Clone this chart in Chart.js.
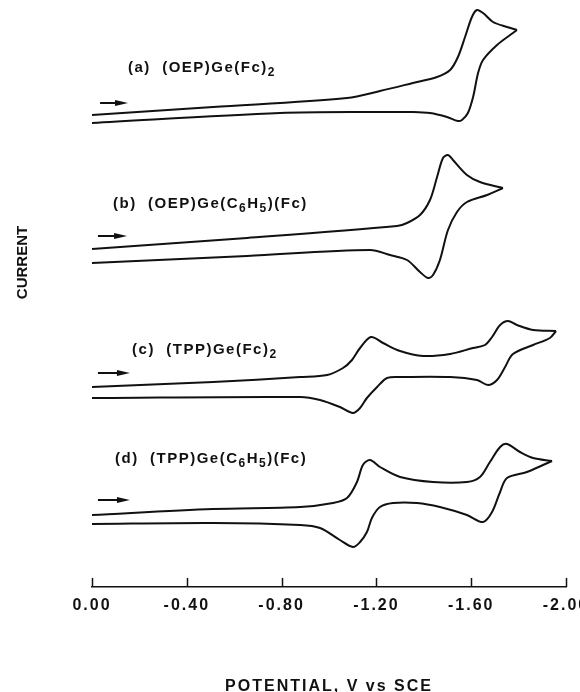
<!DOCTYPE html>
<html>
<head>
<meta charset="utf-8">
<script src="https://cdn.jsdelivr.net/npm/chart.js@4.4.1/dist/chart.umd.min.js"></script>
<style>
  html, body { margin:0; padding:0; background:#fff; }
  #wrap { width:580px; height:692px; position:relative; }
</style>
</head>
<body>
<div id="wrap"><canvas id="grafico"></canvas></div>
<script>
// potencial (V vs SCE) e corrente (unid. arbitrarias, curvas deslocadas na vertical)
const potentialA = [0, -0.511, -1.076, -1.215, -1.354, -1.456, -1.511, -1.544, -1.574, -1.603, -1.624, -1.650, -1.692, -1.751, -1.793,
                    -1.776, -1.709, -1.650, -1.629, -1.608, -1.586, -1.561, -1.544, -1.498, -1.426, -1.354, -1.215, -0.793, 0];
const currentA   = [47.2, 48.0, 48.9, 49.6, 50.4, 51.0, 51.7, 53.0, 55.0, 57.0, 57.7, 57.4, 56.5, 56.0, 55.7,
                    55.4, 54.2, 52.7, 51.4, 49.0, 47.4, 46.7, 46.6, 47.0, 47.4, 47.5, 47.5, 47.4, 46.4];

const potentialB = [0, -0.654, -1.287, -1.329, -1.384, -1.426, -1.456, -1.481, -1.502, -1.523, -1.582, -1.637, -1.734,
                    -1.667, -1.582, -1.540, -1.502, -1.468, -1.439, -1.418, -1.384, -1.329, -1.257, -1.173, -0.654, 0];
const currentB   = [33.8, 34.9, 36.1, 36.4, 37.2, 38.7, 41.0, 42.9, 43.2, 42.7, 41.2, 40.5, 39.9,
                    39.2, 38.5, 37.5, 35.7, 32.7, 31.2, 30.9, 31.5, 32.7, 33.2, 33.7, 33.1, 32.4];

const potentialC = [0, -0.511, -0.878, -0.992, -1.059, -1.097, -1.131, -1.177, -1.228, -1.300, -1.397, -1.511, -1.608, -1.658,
                    -1.688, -1.722, -1.755, -1.793, -1.861, -1.958,
                    -1.932, -1.861, -1.776, -1.743, -1.709, -1.671, -1.624, -1.511, -1.300, -1.245, -1.203, -1.160, -1.131,
                    -1.101, -1.046, -0.962, -0.878, 0];
const currentC   = [20.0, 20.5, 21.0, 21.2, 21.9, 22.7, 23.9, 25.0, 24.4, 23.6, 23.1, 23.3, 23.9, 24.2,
                    25.0, 26.2, 26.6, 26.2, 25.7, 25.6,
                    24.9, 24.2, 23.3, 22.0, 20.7, 20.2, 20.7, 21.0, 21.0, 20.9, 20.0, 18.9, 17.9,
                    17.4, 18.0, 18.7, 19.0, 18.9];

const potentialD = [0, -0.511, -0.878, -1.017, -1.076, -1.118, -1.143, -1.173, -1.215, -1.300, -1.439, -1.582, -1.637, -1.679,
                    -1.722, -1.751, -1.806, -1.861, -1.941,
                    -1.903, -1.835, -1.751, -1.722, -1.688, -1.650, -1.582, -1.468, -1.371, -1.270, -1.215, -1.181, -1.160,
                    -1.131, -1.101, -1.046, -0.962, -0.878, -0.511, 0];
const currentD   = [7.2, 7.8, 8.0, 8.4, 8.9, 10.5, 12.2, 12.7, 12.0, 11.0, 10.5, 10.5, 11.0, 12.5,
                    14.0, 14.3, 13.5, 12.9, 12.6,
                    12.2, 11.5, 10.9, 9.5, 7.5, 6.5, 7.2, 8.0, 8.4, 8.4, 8.0, 6.9, 5.5,
                    4.5, 4.0, 4.7, 5.9, 6.2, 6.4, 6.3];

const tickValues = [0, -0.4, -0.8, -1.2, -1.6, -2.0];

// "_n" = indice
const labelA = "(a)  (OEP)Ge(Fc)_2";
const labelB = "(b)  (OEP)Ge(C_6H_5)(Fc)";
const labelC = "(c)  (TPP)Ge(Fc)_2";
const labelD = "(d)  (TPP)Ge(C_6H_5)(Fc)";

const FONTE = '"Liberation Sans", Arial, Helvetica, sans-serif';
Chart.defaults.font.family = FONTE;
Chart.defaults.color = '#111';

// separa varredura de ida e de volta no ponto de inversao
function montarCurvas(pot, cor){
    let k = 0;
    pot.forEach((v,i)=>{ if(v < pot[k]) k = i; });
    const pts = pot.map((v,i)=>({x:v, y:cor[i]}));
    const estilo = { showLine:true, pointRadius:0, borderColor:'#111', borderWidth:2, tension:0.32, fill:false };
    return [ {...estilo, data: pts.slice(0, k+1)}, {...estilo, data: pts.slice(k)} ];
}

const datasets = [
    ...montarCurvas(potentialA, currentA),
    ...montarCurvas(potentialB, currentB),
    ...montarCurvas(potentialC, currentC),
    ...montarCurvas(potentialD, currentD)
];

const anotacoes = {
    id: 'anotacoes',
    beforeDraw(chart){ chart.ctx.letterSpacing = '2px'; },
    afterDraw(chart, args, opts){
        const ctx = chart.ctx, xs = chart.scales.x, ys = chart.scales.y;
        ctx.save();
        ctx.strokeStyle = '#111';
        ctx.fillStyle = '#111';

        // marcas do eixo para cima
        ctx.lineWidth = 1.5;
        const yb = chart.chartArea.bottom;
        xs.ticks.forEach(t=>{
            const px = Math.round(xs.getPixelForValue(t.value)) + 0.5;
            ctx.beginPath(); ctx.moveTo(px, yb); ctx.lineTo(px, yb - 9); ctx.stroke();
        });

        // rotulos das curvas
        ctx.textBaseline = 'middle';
        ctx.textAlign = 'left';
        ctx.letterSpacing = '1.5px';
        opts.labels.forEach(l=>{
            let x = xs.getPixelForValue(l.x);
            const y = ys.getPixelForValue(l.y);
            l.text.split(/(_\d)/).filter(s=>s).forEach(parte=>{
                const sub = parte[0] === '_';
                const txt = sub ? parte.slice(1) : parte;
                ctx.font = sub ? `bold 12px ${FONTE}` : `bold 15px ${FONTE}`;
                ctx.fillText(txt, x, sub ? y + 5 : y);
                x += ctx.measureText(txt).width;
            });
        });

        // setas de inicio da varredura
        ctx.lineWidth = 2;
        opts.arrows.forEach(a=>{
            const x1 = xs.getPixelForValue(a.x1), x2 = xs.getPixelForValue(a.x2), y = ys.getPixelForValue(a.y);
            ctx.beginPath(); ctx.moveTo(x1, y); ctx.lineTo(x2 - 8, y); ctx.stroke();
            ctx.beginPath(); ctx.moveTo(x2, y); ctx.lineTo(x2 - 13, y - 3); ctx.lineTo(x2 - 13, y + 3); ctx.closePath(); ctx.fill();
        });

        // titulo do eixo vertical
        ctx.letterSpacing = '0px';
        ctx.font = `bold 15px ${FONTE}`;
        ctx.textAlign = 'center';
        ctx.translate(chart.chartArea.left + opts.yTitle.dx, ys.getPixelForValue(opts.yTitle.y));
        ctx.rotate(-Math.PI/2);
        ctx.fillText(opts.yTitle.text, 0, 0);
        ctx.restore();
        ctx.letterSpacing = '0px';
    }
};

new Chart(document.getElementById('grafico'), {
    type: 'scatter',
    data: { datasets },
    options: {
        responsive: true,
        maintainAspectRatio: false,
        animation: false,
        events: [],
        layout: { padding: { left: 92, right: 14, top: 0, bottom: 0 } },
        scales: {
            x: {
                type: 'linear', min: -2, max: 0, reverse: true,
                afterBuildTicks: s => { s.ticks = tickValues.map(v=>({value:v})); },
                afterFit: s => { s.height = 105; s.paddingLeft = 0; s.paddingRight = 0; },
                grid: { display: true, drawOnChartArea: false, drawTicks: false },
                border: { display: true, color: '#111', width: 1.5 },
                ticks: {
                    padding: 9, color: '#111',
                    font: { size: 16, weight: 'bold' },
                    callback: v => Number(v).toFixed(2)
                },
                title: {
                    display: true, text: 'POTENTIAL, V vs SCE', color: '#111',
                    font: { size: 16, weight: 'bold', lineHeight: 1 },
                    padding: { top: 0, bottom: -3 }
                }
            },
            y: { type: 'linear', min: 0, max: 58.7, display: false }
        },
        plugins: {
            legend: { display: false },
            tooltip: { enabled: false },
            anotacoes: {
                labels: [
                    { text: labelA, x: -0.152, y: 51.9 },
                    { text: labelB, x: -0.089, y: 38.3 },
                    { text: labelC, x: -0.169, y: 23.7 },
                    { text: labelD, x: -0.097, y: 12.8 }
                ],
                arrows: [
                    { x1: -0.034, x2: -0.152, y: 48.4 },
                    { x1: -0.025, x2: -0.148, y: 35.1 },
                    { x1: -0.025, x2: -0.160, y: 21.4 },
                    { x1: -0.025, x2: -0.160, y: 8.7 }
                ],
                yTitle: { text: 'CURRENT', dx: -69.5, y: 32.45 }
            }
        }
    },
    plugins: [anotacoes]
});
</script>
</body>
</html>
